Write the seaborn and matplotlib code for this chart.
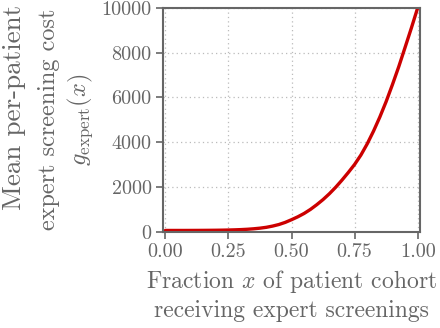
import matplotlib
matplotlib.use("Agg")
import matplotlib.pyplot as plt
import seaborn as sns
import pandas as pd

# Values
fraction_x = [0.000, 0.025, 0.050, 0.075, 0.100, 0.125, 0.150, 0.175, 0.200, 0.225,
              0.250, 0.275, 0.300, 0.325, 0.350, 0.375, 0.400, 0.425, 0.450, 0.475,
              0.500, 0.525, 0.550, 0.575, 0.600, 0.625, 0.650, 0.675, 0.700, 0.725,
              0.750, 0.775, 0.800, 0.825, 0.850, 0.875, 0.900, 0.925, 0.950, 0.975,
              1.000]
expert_cost = [50, 50, 50, 50, 51, 52, 54, 56, 59, 63,
               69, 77, 88, 103, 124, 152, 190, 245, 315, 410,
               530, 660, 810, 990, 1200, 1430, 1690, 1980, 2300, 2640,
               3000, 3420, 3920, 4490, 5120, 5810, 6570, 7370, 8230, 9100,
               10000]
x_ticks = [0.00, 0.25, 0.50, 0.75, 1.00]
y_ticks = [0, 2000, 4000, 6000, 8000, 10000]
y_title_top = "Mean per-patient"
y_title_rest = "expert screening cost\n$g_{\\mathrm{expert}}(x)$"
x_title = "Fraction $x$ of patient cohort\nreceiving expert screenings"

sns.set_style("whitegrid")
plt.rcParams["font.family"] = ["cmr10", "DejaVu Serif"]
plt.rcParams["mathtext.fontset"] = "cm"
plt.rcParams["axes.formatter.use_mathtext"] = True

GRAY = "#666666"
df = pd.DataFrame({"x": fraction_x, "cost": expert_cost})

fig = plt.figure(figsize=(4.4, 3.28), dpi=100)
ax = fig.add_axes([0.370, 0.294, 0.585, 0.682])
sns.lineplot(data=df, x="x", y="cost", ax=ax, color="#cc0000", linewidth=2.4)

ax.set_xlim(-0.01, 1.01)
ax.set_ylim(0, 10000)
ax.set_xticks(x_ticks)
ax.set_yticks(y_ticks)
ax.set_xticklabels([f"{t:.2f}" for t in x_ticks])
ax.set_yticklabels([str(t) for t in y_ticks])
ax.tick_params(axis="both", colors=GRAY, labelsize=14.5, length=5, width=1.2,
               direction="out", left=True, bottom=True, pad=3)
for sp in ax.spines.values():
    sp.set_color(GRAY)
    sp.set_linewidth(1.5)
ax.grid(True, color="#bbbbbb", linestyle=(0, (1, 2.5)), linewidth=0.9)

ax.set_xlabel(x_title, fontsize=17, color=GRAY, labelpad=5, linespacing=1.3)
ax.set_ylabel(y_title_rest, fontsize=17.5, color=GRAY, labelpad=5, linespacing=1.25)
fig.text(0.032, 0.672, y_title_top, rotation=90, ha="center", va="center",
         fontsize=19.5, color=GRAY)

fig.savefig("out.png", dpi=100)
